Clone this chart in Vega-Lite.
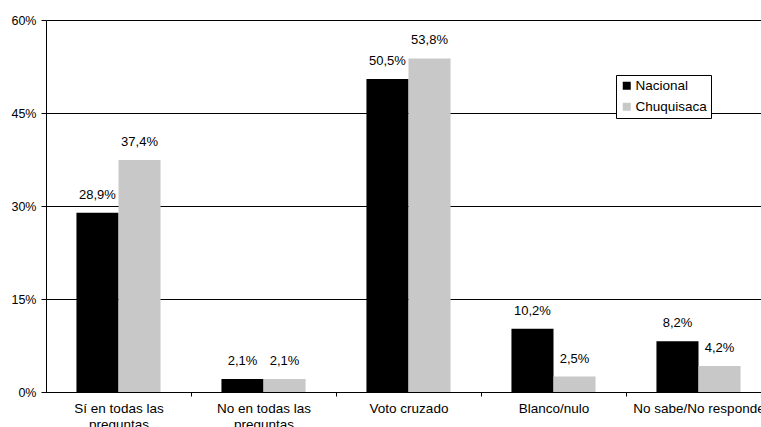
{
  "$schema": "https://vega.github.io/schema/vega-lite/v6.json",
  "autosize": "none",
  "padding": {"left": 46, "top": 20, "right": 0, "bottom": 35},
  "width": 725,
  "height": 372,
  "background": "white",
  "config": {
    "font": "Liberation Sans",
    "view": {"stroke": null},
    "axis": {"labelFont": "Liberation Sans", "labelColor": "#000", "domainColor": "#000", "tickColor": "#000", "title": null}
  },
  "data": {
    "values": [
      {"categoria": "Sí en todas las preguntas", "serie": "Nacional", "valor": 28.9, "etiqueta": "28,9%"},
      {"categoria": "Sí en todas las preguntas", "serie": "Chuquisaca", "valor": 37.4, "etiqueta": "37,4%"},
      {"categoria": "No en todas las preguntas", "serie": "Nacional", "valor": 2.1, "etiqueta": "2,1%"},
      {"categoria": "No en todas las preguntas", "serie": "Chuquisaca", "valor": 2.1, "etiqueta": "2,1%"},
      {"categoria": "Voto cruzado", "serie": "Nacional", "valor": 50.5, "etiqueta": "50,5%"},
      {"categoria": "Voto cruzado", "serie": "Chuquisaca", "valor": 53.8, "etiqueta": "53,8%"},
      {"categoria": "Blanco/nulo", "serie": "Nacional", "valor": 10.2, "etiqueta": "10,2%"},
      {"categoria": "Blanco/nulo", "serie": "Chuquisaca", "valor": 2.5, "etiqueta": "2,5%"},
      {"categoria": "No sabe/No responde", "serie": "Nacional", "valor": 8.2, "etiqueta": "8,2%"},
      {"categoria": "No sabe/No responde", "serie": "Chuquisaca", "valor": 4.2, "etiqueta": "4,2%"}
    ]
  },
  "encoding": {
    "x": {
      "field": "categoria", "type": "nominal", "sort": null,
      "scale": {"paddingInner": 0.42, "paddingOuter": 0.21},
      "axis": {
        "labelAngle": 0, "labelFontSize": 13.5, "labelLineHeight": 16, "labelPadding": 5,
        "tickSize": 4, "tickOffset": 72.5, "labelOffset": -72.5, "domainWidth": 1,
        "labelExpr": "isString(datum.value) && indexof(datum.value, ' preguntas') > 0 ? [replace(datum.value, ' preguntas', ''), 'preguntas'] : datum.value"
      }
    },
    "xOffset": {"field": "serie", "type": "nominal", "sort": ["Nacional", "Chuquisaca"]},
    "y": {
      "field": "valor", "type": "quantitative",
      "scale": {"domain": [0, 60], "nice": false},
      "axis": {
        "values": [0, 15, 30, 45, 60], "labelExpr": "datum.value + '%'",
        "labelFontSize": 12.5, "tickSize": 5, "labelPadding": 5,
        "grid": true, "gridColor": "#000", "gridOpacity": 1, "gridWidth": 1
      }
    }
  },
  "layer": [
    {
      "mark": {"type": "bar"},
      "encoding": {
        "color": {
          "field": "serie", "type": "nominal",
          "scale": {"domain": ["Nacional", "Chuquisaca"], "range": ["#000000", "#c8c8c8"]},
          "legend": {
            "title": null, "orient": "none", "legendX": 570, "legendY": 55,
            "symbolType": "square", "symbolSize": 64, "symbolStrokeWidth": 0,
            "labelFontSize": 13.5, "labelColor": "#000", "labelOffset": 2,
            "rowPadding": 6, "padding": 4,
            "strokeColor": "#000", "fillColor": "#fff"
          }
        }
      }
    },
    {
      "mark": {"type": "text", "baseline": "middle", "dy": -18, "fontSize": 13, "color": "#000"},
      "encoding": {"text": {"field": "etiqueta"}}
    }
  ]
}
